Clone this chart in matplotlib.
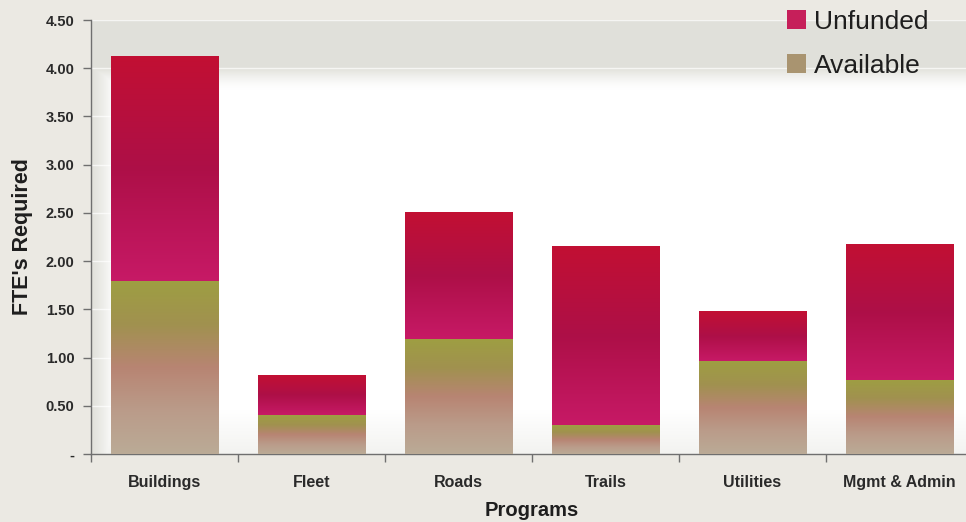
import numpy as np
import matplotlib
matplotlib.use("Agg")
import matplotlib.pyplot as plt
from matplotlib.colors import LinearSegmentedColormap
from matplotlib.patches import Patch

plt.rcParams['font.family'] = ['Liberation Sans', 'DejaVu Sans']

programs = ["Buildings", "Fleet", "Roads", "Trails", "Utilities", "Mgmt & Admin"]
available = [1.79, 0.40, 1.19, 0.30, 0.96, 0.77]
unfunded = [2.33, 0.41, 1.31, 1.85, 0.51, 1.41]
ytick_values = [0, 0.5, 1.0, 1.5, 2.0, 2.5, 3.0, 3.5, 4.0, 4.5]
ytick_labels = ["-", "0.50", "1.00", "1.50", "2.00", "2.50", "3.00", "3.50", "4.00", "4.50"]

# vertical colour ramps, bottom -> top
avail_cmap = LinearSegmentedColormap.from_list("avail", [
    (0.0, (0.73, 0.67, 0.59)),
    (0.25, (0.73, 0.61, 0.54)),
    (0.5, (0.72, 0.52, 0.45)),
    (0.75, (0.63, 0.57, 0.31)),
    (1.0, (0.62, 0.62, 0.26)),
])
unf_cmap = LinearSegmentedColormap.from_list("unf", [
    (0.0, (0.78, 0.10, 0.40)),
    (0.5, (0.68, 0.06, 0.28)),
    (1.0, (0.76, 0.06, 0.20)),
])
ramp = np.linspace(0, 1, 256).reshape(-1, 1)


def fill_gradient(ax, bars, cmap):
    for b in bars:
        x0, y0 = b.get_x(), b.get_y()
        ax.imshow(ramp, cmap=cmap, origin="lower", aspect="auto",
                  extent=[x0, x0 + b.get_width(), y0, y0 + b.get_height()],
                  zorder=3)
        b.set_facecolor("none")


fig = plt.figure(figsize=(9.66, 5.22), dpi=100, facecolor="#ebe9e3")
ax = fig.add_axes([91 / 966, 1 - 454 / 522, 882 / 966, 434 / 522])

x = np.arange(len(programs))
bars_a = ax.bar(x, available, width=0.73, edgecolor="none", zorder=3)
bars_u = ax.bar(x, unfunded, width=0.73, bottom=available, edgecolor="none", zorder=3)
fill_gradient(ax, bars_a, avail_cmap)
fill_gradient(ax, bars_u, unf_cmap)

ax.set_xlim(-0.5, len(programs) - 0.5)
ax.set_ylim(0, 4.5)

# plot area: white centre shading to grey towards the top, left and bottom edges
h, w = 434, 882
yy, xx = np.mgrid[0:h, 0:w]
fy = yy / (h - 1)
fx = xx / (w - 1)
g_top = np.clip((fy - 0.84) / 0.05, 0, 1) ** 1.5
g_left = np.clip(1 - fx / 0.024, 0, 1) ** 0.7
g_bot = np.clip(1 - fy / 0.1, 0, 1) * 0.4
g = np.maximum(np.maximum(g_top, g_left), g_bot)
grey = np.array([0.88, 0.88, 0.855])
bg = 1 - g[..., None] * (1 - grey)
ax.imshow(bg, origin="lower", aspect="auto", extent=[-0.5, len(programs) - 0.5, 0, 4.5], zorder=0)
ax.set_facecolor("white")

for v in ytick_values[1:]:
    ax.axhline(v, color="white", lw=1.0, alpha=0.7, zorder=1)

for s in ["top", "right"]:
    ax.spines[s].set_visible(False)
for s in ["left", "bottom"]:
    ax.spines[s].set_color("#6f6f6f")
    ax.spines[s].set_linewidth(1.0)

ax.set_yticks(ytick_values)
ax.set_yticklabels(ytick_labels, fontsize=10.5, fontweight="bold", color="#2a2a2a")
ax.tick_params(axis="y", direction="out", length=6, width=1, color="#6f6f6f", pad=6)

ax.set_xticks(x)
ax.set_xticklabels(programs, fontsize=11.5, fontweight="bold", color="#2a2a2a")
ax.set_xticks(np.arange(len(programs)) - 0.5, minor=True)
ax.tick_params(axis="x", which="major", length=0, pad=15)
ax.tick_params(axis="x", which="minor", direction="out", length=6, width=1, color="#6f6f6f")

ax.set_xlabel("Programs", fontsize=14.5, fontweight="bold", color="#1e1e1e", labelpad=8)
ax.set_ylabel("FTE's Required", fontsize=15.5, fontweight="bold", color="#1e1e1e", labelpad=9)

handles = [Patch(facecolor="#c61f5a", edgecolor="none", label="Unfunded"),
           Patch(facecolor="#a99470", edgecolor="none", label="Available")]
leg = fig.legend(handles=handles, loc="upper left", bbox_to_anchor=(787 / 966, 1 - 10 / 522),
                 frameon=False, prop={"size": 19},
                 handlelength=0.72, handleheight=0.72,
                 handletextpad=0.3, labelspacing=0.74, borderpad=0, borderaxespad=0)
for t in leg.get_texts():
    t.set_color("#1e1e1e")

fig.savefig("out.png", dpi=100, facecolor=fig.get_facecolor())
